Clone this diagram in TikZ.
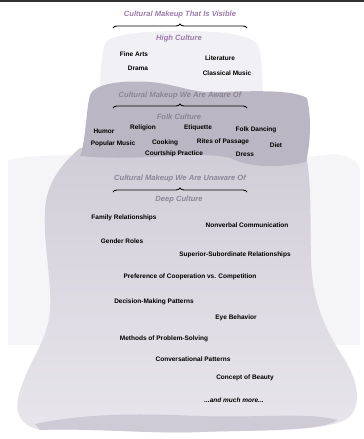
\documentclass[tikz,border=0pt]{standalone}
\usepackage{fontspec}
\setmainfont{Liberation Sans}
\usetikzlibrary{decorations.pathreplacing}

\definecolor{waterc}{HTML}{F5F5F7}
\definecolor{deepc}{HTML}{D1CDD8}
\definecolor{deepbot}{HTML}{E8E6EC}
\definecolor{deepband}{HTML}{CFCBD6}
\definecolor{folkc}{HTML}{BBB6C4}
\definecolor{highc}{HTML}{F1F0F4}
\definecolor{headv}{HTML}{9B7BA9}
\definecolor{headg}{HTML}{8A8694}

\tikzset{
  item/.style={font=\bfseries\fontsize{6.5}{7}\selectfont, inner sep=1pt},
  heading/.style={font=\bfseries\itshape\fontsize{7.6}{8}\selectfont, inner sep=1pt},
  culbrace/.style={decorate, decoration={brace, amplitude=4pt}, line width=0.9pt}
}

\begin{document}
\begin{tikzpicture}[x=1pt,y=-1pt]
\useasboundingbox (0,0) rectangle (364,439);

% Rand oben
\fill[black!80] (0,0) rectangle (364,2);

% Wasser
\fill[waterc] (8,160) .. controls (60,150) and (150,156) .. (250,160)
    .. controls (300,162) and (330,150) .. (345,156)
    .. controls (355,160) and (360,165) .. (360,170)
    -- (360,345) -- (8,345) -- cycle;

% Eisberg unten (Deep Culture)
\shade[top color=deepc, bottom color=deepbot]
    (80,148) .. controls (60,165) and (46,185) .. (45,210)
    .. controls (43,245) and (52,280) .. (50,310)
    .. controls (48,340) and (30,360) .. (22,385)
    .. controls (12,410) and (18,425) .. (40,430)
    .. controls (100,428) and (150,434) .. (200,432)
    .. controls (260,430) and (320,432) .. (345,420)
    .. controls (362,410) and (360,385) .. (345,360)
    .. controls (325,330) and (312,300) .. (311,260)
    .. controls (310,220) and (312,180) .. (305,150)
    -- cycle;
\fill[deepband] (35,424) .. controls (90,412) and (150,414) .. (200,416)
    .. controls (260,418) and (310,412) .. (338,420)
    .. controls (320,432) and (250,430) .. (200,432)
    .. controls (150,434) and (90,428) .. (40,430) -- cycle;

% Eisberg oben (High Culture)
\fill[highc] (100,100) .. controls (100,75) and (101,50) .. (106,42)
    .. controls (115,33) and (150,31) .. (180,31)
    .. controls (215,31) and (248,33) .. (257,44)
    .. controls (263,55) and (262,80) .. (263,100) -- cycle;

% Eisberg Mitte (Folk Culture)
\fill[folkc] (80,156) .. controls (86,140) and (86,110) .. (90,95)
    .. controls (94,84) and (120,80) .. (150,82)
    .. controls (175,84) and (190,92) .. (210,92)
    .. controls (240,92) and (290,88) .. (307,98)
    .. controls (312,120) and (310,145) .. (306,162)
    .. controls (280,168) and (250,168) .. (230,158)
    .. controls (200,150) and (140,162) .. (80,156) -- cycle;

% Ueberschriften und Klammern
\node[heading, headv] (visible) at (180,15) {Cultural Makeup That Is Visible};
\coordinate (vl) at (113,28);
\coordinate (vr) at (247,28);
\draw[culbrace] (vl) -- (vr);
\node[heading, headv] (high) at (179,39) {High Culture};

\node[heading, headg] (aware) at (180,96) {Cultural Makeup We Are Aware Of};
\coordinate (al) at (113,108);
\coordinate (ar) at (247,108);
\draw[culbrace] (al) -- (ar);
\node[heading, headg] (folk) at (179,117) {Folk Culture};

\node[heading, headg] (unaware) at (180,179) {Cultural Makeup We Are Unaware Of};
\coordinate (ul) at (113,192);
\coordinate (ur) at (247,192);
\draw[culbrace] (ul) -- (ur);
\node[heading, headg] (deep) at (179,200) {Deep Culture};

% High Culture
\foreach \txt/\x/\y [count=\i] in {Fine Arts/134/54, Literature/220/58,
    Drama/138/68, Classical Music/227/73}
  \node[item] (hc\i) at (\x,\y) {\txt};

% Folk Culture
\foreach \txt/\x/\y [count=\i] in {Humor/104/131, Religion/143/128,
    Etiquette/198/128, Folk Dancing/256/130, Popular Music/113/144,
    Cooking/165/143, Rites of Passage/223/142, Diet/276/145,
    Courtship Practice/174/154, Dress/245/154}
  \node[item] (fc\i) at (\x,\y) {\txt};

% Deep Culture
\foreach \txt/\x/\y [count=\i] in {Family Relationships/124/218,
    Nonverbal Communication/247/225, Gender Roles/122/241,
    Superior-Subordinate Relationships/235/255,
    Preference of Cooperation vs. Competition/190/277,
    Decision-Making Patterns/154/302, Eye Behavior/236/318,
    Methods of Problem-Solving/164/339, Conversational Patterns/193/359,
    Concept of Beauty/245/378}
  \node[item] (dc\i) at (\x,\y) {\txt};
\node[item, font=\bfseries\itshape\fontsize{6.5}{7}\selectfont] (more) at (234,400) {...and much more...};

\end{tikzpicture}
\end{document}
